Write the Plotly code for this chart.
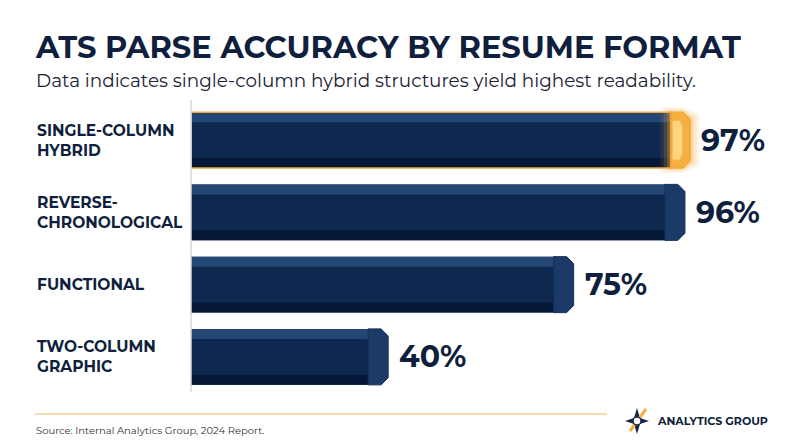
import plotly.graph_objects as go

# ---------------------------------------------------------------
# data
# ---------------------------------------------------------------
formats = ["SINGLE-COLUMN<br>HYBRID", "REVERSE-<br>CHRONOLOGICAL",
           "FUNCTIONAL", "TWO-COLUMN<br>GRAPHIC"]
accuracy = [97, 96, 75, 40]
labels = ["97%", "96%", "75%", "40%"]

TITLE = "ATS PARSE ACCURACY BY RESUME FORMAT"
SUBTITLE = "Data indicates single-column hybrid structures yield highest readability."
SOURCE = "Source: Internal Analytics Group, 2024 Report."

# ---------------------------------------------------------------
# geometry / styles
# ---------------------------------------------------------------
W, H = 800, 447
L, R, T, B = 191, 10, 104, 54
X0, PXU = 2.8, 5.30          # value at left edge, pixels per unit
X1 = X0 + (W - L - R) / PXU

NAVY = "#0f2850"
NAVY_TOP = "#254776"
NAVY_BOT = "#061838"
CAP = "#1c3a68"
GOLD = "#f2a93b"
INK = "#0f1f3d"
FONT = "Montserrat, Inter, sans-serif"

BW = 0.775                   # bar thickness (category units)
BAND = 0.14                  # bevel band thickness
CAP_W = 20 / PXU             # end cap width in value units
CH_X = 7 / PXU               # chamfer
CH_Y = 0.10

pos = list(range(len(formats) - 1, -1, -1))   # 3,2,1,0 top to bottom


def px(x):
    return (x - L) / (W - L - R)


def py(y):
    return (H - B - y) / (H - T - B)


fig = go.Figure()

# bar bodies + bevel bands
body_len = [v - CAP_W + 0.3 for v in accuracy]
fig.add_trace(go.Bar(y=pos, x=body_len, base=0, orientation="h", width=BW,
                     marker=dict(color=NAVY, line_width=0), hoverinfo="skip"))
fig.add_trace(go.Bar(y=pos, x=body_len, base=0, orientation="h", width=BAND,
                     offset=BW / 2 - BAND,
                     marker=dict(color=NAVY_TOP, line_width=0), hoverinfo="skip"))
fig.add_trace(go.Bar(y=pos, x=body_len, base=0, orientation="h", width=BAND,
                     offset=-BW / 2,
                     marker=dict(color=NAVY_BOT, line_width=0), hoverinfo="skip"))


def cap_poly(v, c, grow_x=0.0, grow_y=0.0):
    top, bot = c + BW / 2 + grow_y, c - BW / 2 - grow_y
    xs = [v - CAP_W - grow_x, v - CH_X, v + grow_x, v + grow_x, v - CH_X, v - CAP_W - grow_x, v - CAP_W - grow_x]
    ys = [top, top, top - CH_Y, bot + CH_Y, bot, bot, top]
    return xs, ys


for i, (v, c) in enumerate(zip(accuracy, pos)):
    if i == 0:
        # glow around highlighted cap
        for g, op in [(1.8, 0.10), (1.2, 0.16), (0.6, 0.25)]:
            xs, ys = cap_poly(v, c, g, g * 0.04)
            fig.add_trace(go.Scatter(x=xs, y=ys, mode="lines", fill="toself",
                                     fillcolor=f"rgba(247,170,50,{op})", line_width=0,
                                     hoverinfo="skip"))
        xs, ys = cap_poly(v, c)
        fig.add_trace(go.Scatter(x=xs, y=ys, mode="lines", fill="toself",
                                 fillcolor="#f5b042", line=dict(color="#f0a02c", width=1),
                                 hoverinfo="skip"))
        xs, ys = cap_poly(v - 0.6, c, -0.9, -0.12)
        fig.add_trace(go.Scatter(x=xs, y=ys, mode="lines", fill="toself",
                                 fillcolor="#ffd47e", line_width=0, hoverinfo="skip"))
    else:
        xs, ys = cap_poly(v, c)
        fig.add_trace(go.Scatter(x=xs, y=ys, mode="lines", fill="toself",
                                 fillcolor=CAP, line=dict(color="#14305a", width=1),
                                 hoverinfo="skip"))

# gold outline on the winning bar
fig.add_shape(type="rect", xref="x", yref="y", x0=X0, x1=accuracy[0] - CAP_W + 0.3,
              y0=pos[0] - BW / 2, y1=pos[0] + BW / 2,
              line=dict(color=GOLD, width=1.5), layer="above")

# value labels
for v, c, t in zip(accuracy, pos, labels):
    fig.add_annotation(x=v, y=c, text=f"<b>{t}</b>", showarrow=False,
                       xanchor="left", xshift=9, font=dict(size=30, color=INK, family=FONT))

# category labels, left aligned
for c, t in zip(pos, formats):
    fig.add_annotation(xref="paper", x=px(35), y=c, text=f"<b>{t}</b>", showarrow=False,
                       xanchor="left", align="left",
                       font=dict(size=15.5, color=INK, family=FONT))

# title / subtitle / footer
fig.add_annotation(xref="paper", yref="paper", x=px(33), y=py(47), text=f"<b>{TITLE}</b>",
                   showarrow=False, xanchor="left", yanchor="middle",
                   font=dict(size=30.5, color=INK, family=FONT))
fig.add_annotation(xref="paper", yref="paper", x=px(34), y=py(80), text=SUBTITLE,
                   showarrow=False, xanchor="left", yanchor="middle",
                   font=dict(size=18.4, color="#1a2233", family=FONT))
fig.add_annotation(xref="paper", yref="paper", x=px(34), y=py(430), text=SOURCE,
                   showarrow=False, xanchor="left", yanchor="middle",
                   font=dict(size=10, color="#333333", family=FONT))
fig.add_annotation(xref="paper", yref="paper", x=px(655), y=py(421), text="<b>ANALYTICS GROUP</b>",
                   showarrow=False, xanchor="left", yanchor="middle",
                   font=dict(size=11, color=INK, family=FONT))

fig.add_shape(type="line", xref="paper", yref="paper", x0=px(35), x1=px(607),
              y0=py(414), y1=py(414), line=dict(color="#f0cf95", width=1.5))

# axis line
fig.add_shape(type="line", xref="paper", yref="paper", x0=px(191), x1=px(191),
              y0=py(100), y1=py(392), line=dict(color="#d8d8d8", width=1.5))

# logo mark
cx, cy = 637, 421
star = [(cx, cy - 13), (cx + 3, cy - 3), (cx + 12, cy), (cx + 3, cy + 3), (cx, cy + 13),
        (cx - 3, cy + 3), (cx - 12, cy), (cx - 3, cy - 3)]
path = "M " + " L ".join(f"{px(a)},{py(b)}" for a, b in star) + " Z"
fig.add_shape(type="path", xref="paper", yref="paper", path=path,
              fillcolor="#16264a", line_width=0)
fig.add_shape(type="line", xref="paper", yref="paper", x0=px(630), x1=px(646),
              y0=py(431), y1=py(409), line=dict(color="#f2b23c", width=3))
fig.add_shape(type="circle", xref="paper", yref="paper", x0=px(633), x1=px(641),
              y0=py(425), y1=py(417), fillcolor="white", line=dict(color="#16264a", width=1.5))

fig.update_layout(
    width=W, height=H,
    margin=dict(l=L, r=R, t=T, b=B),
    paper_bgcolor="white", plot_bgcolor="white",
    barmode="overlay", showlegend=False,
    xaxis=dict(range=[X0, X1], visible=False, fixedrange=True),
    yaxis=dict(range=[-0.5, 3.5], visible=False, fixedrange=True),
)

fig.write_html("out.html", config={"displayModeBar": False},
               post_script="document.body.style.margin='0px';")
